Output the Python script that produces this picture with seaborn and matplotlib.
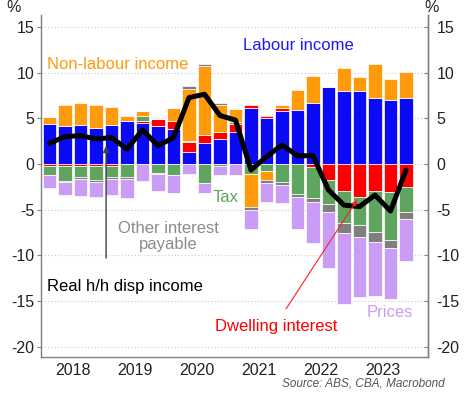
import numpy as np
import pandas as pd
import seaborn as sns
import matplotlib
matplotlib.use("Agg")
import matplotlib.pyplot as plt

sns.set_theme(style="white")
plt.rcParams['font.family'] = ['Liberation Sans', 'DejaVu Sans']

# Quarters 2018Q1 .. 2023Q4
quarters = [f"{y}Q{q}" for y in range(2018, 2024) for q in range(1, 5)]
years = ["2018", "2019", "2020", "2021", "2022", "2023"]

labour_income = [4.4, 4.15, 4.25, 3.9, 4.25, 4.7, 4.45, 4.15, 3.85, 1.35, 2.25, 2.7,
                 3.55, 6.1, 5.0, 5.85, 5.9, 6.7, 8.45, 8.0, 8.0, 7.25, 7.0, 7.2]
dwelling_interest = [-0.2, -0.2, -0.2, -0.2, -0.2, 0.0, 0.25, 0.75, 0.8, 1.0, 0.9, 0.75,
                     0.85, 0.3, 0.2, 0.25, 0.0, -0.3, -1.75, -2.95, -3.6, -2.95, -3.1, -2.5]
tax = [-1.0, -1.7, -1.25, -1.6, -1.25, -1.4, 0.55, -1.0, -1.2, 0.15, -2.1, -0.2,
       0.2, -1.1, -0.75, -1.95, -3.3, -3.4, -2.65, -3.55, -3.1, -4.45, -5.2, -2.75]
non_labour_income = [0.7, 2.3, 2.4, 2.55, 1.95, 0.6, 0.5, -0.1, 1.45, 5.7, 7.6, 3.0,
                     1.45, -3.6, -1.0, 0.4, 2.2, 2.95, 0.0, 2.55, 1.55, 3.7, 2.25, 2.9]
other_interest = [0.0, -0.1, -0.15, -0.2, -0.2, -0.25, 0.0, 0.0, 0.0, 0.35, 0.2, 0.2,
                  0.0, -0.35, -0.3, -0.35, -0.35, -0.45, -0.9, -1.1, -1.3, -1.1, -0.9, -0.8]
prices = [-1.45, -1.4, -1.85, -1.65, -1.7, -2.05, -1.85, -1.9, -2.0, -1.15, -1.05, -1.05,
          -1.2, -2.05, -2.15, -2.0, -3.45, -4.55, -6.1, -7.75, -6.55, -6.0, -5.55, -4.6]
real_disp_income = [2.26, 3.0, 3.1, 2.74, 2.88, 1.64, 3.72, 2.0, 2.88, 7.26, 7.63, 5.3,
                    4.8, -0.66, 0.8, 2.08, 0.9, 0.9, -2.85, -4.5, -4.67, -3.4, -5.15, -0.66]

series = [
    ("Labour income", labour_income, "#0a0af5"),
    ("Dwelling interest", dwelling_interest, "#ff0000"),
    ("Tax", tax, "#5fa55f"),
    ("Non-labour income", non_labour_income, "#ff9a0a"),
    ("Other interest payable", other_interest, "#7f7f7f"),
    ("Prices", prices, "#c99df5"),
]

idx = np.arange(len(quarters))

fig = plt.figure(figsize=(4.72, 3.95), dpi=100)
ax = fig.add_axes([41/472, 38/395, 387/472, 342/395])

pos_base = np.zeros(len(idx))
neg_base = np.zeros(len(idx))
for name, vals, col in series:
    v = np.array(vals, dtype=float)
    bottom = np.where(v >= 0, pos_base, neg_base)
    df = pd.DataFrame({"x": idx, "y": v})
    sns.barplot(data=df, x="x", y="y", native_scale=True, orient="x",
                bottom=bottom, color=col, saturation=1, width=0.87,
                edgecolor="white", linewidth=0.5, errorbar=None, ax=ax)
    pos_base = pos_base + np.where(v >= 0, v, 0)
    neg_base = neg_base + np.where(v < 0, v, 0)

sns.lineplot(x=idx, y=real_disp_income, color="black", lw=3.6, ax=ax,
             solid_capstyle="round", solid_joinstyle="round")

ylo, yhi = -21.12, 16.3
ax.set_ylim(ylo, yhi)
ax.set_xlim(-0.55, 24.42)
ax.set_xlabel("")
ax.set_ylabel("")

yt = np.arange(-20, 16, 5)
ax.set_yticks(yt)
ax.set_yticklabels([str(t) for t in yt], fontsize=11.5, color="#222222")
for t in yt:
    ax.axhline(t, color="#cccccc", lw=0.8, ls=(0, (1, 2)), zorder=0)

# x ticks: boundaries (major, unlabeled), year labels (minor)
ax.set_xticks([3.5, 7.5, 11.5, 15.5, 19.5, 23.5])
ax.set_xticklabels([""] * 6)
ax.set_xticks([1.5, 5.5, 9.5, 13.5, 17.5, 21.5], minor=True)
ax.set_xticklabels(years, minor=True, fontsize=11.5, color="#222222")
ax.tick_params(axis="x", which="major", direction="in", length=4, width=0.8, color="#808080")
ax.tick_params(axis="x", which="minor", length=0, pad=4)
ax.tick_params(axis="y", direction="out", length=3, width=0.8, color="#808080", pad=2)

for s in ["left", "right", "bottom"]:
    ax.spines[s].set_visible(True)
    ax.spines[s].set_color("#808080")
    ax.spines[s].set_linewidth(1.0)
ax.spines["top"].set_visible(False)

ax2 = ax.twinx()
ax2.set_ylim(ylo, yhi)
ax2.set_yticks(yt)
ax2.set_yticklabels([str(t) for t in yt], fontsize=11.5, color="#222222")
ax2.tick_params(axis="y", direction="in", length=3, width=0.8, color="#808080", pad=6)
ax2.grid(False)
for s in ["top", "left", "bottom"]:
    ax2.spines[s].set_visible(False)
ax2.spines["right"].set_color("#808080")
ax2.spines["right"].set_linewidth(1.0)

# annotations
fs = 12
ax.text(-0.16, 10.83, "Non-labour income", color="#ff9a0a", fontsize=fs, ha="left", va="center")
ax.text(16.03, 13.0, "Labour income", color="#1a1aee", fontsize=fs, ha="center", va="center")
ax.text(11.35, -3.72, "Tax", color="#5fa55f", fontsize=fs, ha="center", va="center")
ax.text(7.65, -7.9, "Other interest\npayable", color="#8c8c8c", fontsize=fs,
        ha="center", va="center", multialignment="center", linespacing=1.1)
ax.text(-0.16, -13.46, "Real h/h disp income", color="black", fontsize=fs, ha="left", va="center")
ax.text(14.65, -17.83, "Dwelling interest", color="#ff0000", fontsize=fs, ha="center", va="center")
ax.text(21.94, -16.3, "Prices", color="#c99df5", fontsize=fs, ha="center", va="center")

ax.annotate("", xy=(3.65, 1.97), xytext=(3.65, -10.28),
            arrowprops=dict(arrowstyle="-|>", color="#404040", lw=1.0,
                            mutation_scale=9, shrinkA=0, shrinkB=0))
ax.annotate("", xy=(19.84, -3.94), xytext=(15.26, -15.86),
            arrowprops=dict(arrowstyle="-|>", color="#ff2020", lw=0.8,
                            mutation_scale=8, shrinkA=0, shrinkB=0))

fig.text(14/472, 1 - 8/395, "%", fontsize=11.5, ha="center", va="center", color="#222222")
fig.text(432/472, 1 - 8/395, "%", fontsize=11.5, ha="center", va="center", color="#222222")
fig.text(445/472, 1 - 383/395, "Source: ABS, CBA, Macrobond", fontsize=8.5,
         style="italic", ha="right", va="center", color="#555555")

fig.savefig("out.png", dpi=100)
